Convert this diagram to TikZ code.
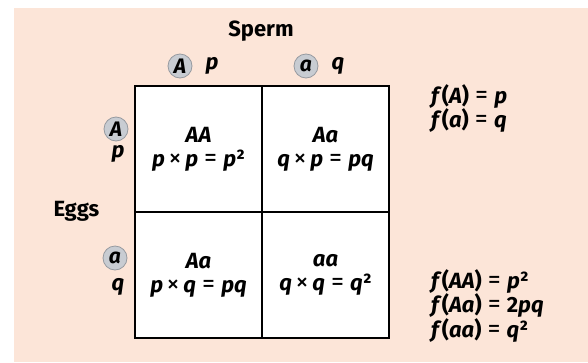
\documentclass[tikz,border=0pt]{standalone}
\usepackage{fontspec}
\setmainfont{Fira Sans}
\usepackage{tikz}
\definecolor{PunnettBg}{RGB}{252,229,216}
\definecolor{PunnettAllele}{RGB}{200,204,210}
\definecolor{PunnettAlleleRim}{RGB}{150,154,160}
\newcommand{\iv}[1]{\textit{#1}}
\newcommand{\eqs}{\;{\fontsize{26}{22}\selectfont\mdseries=}\;}
\newcommand{\tms}{\,{\fontsize{26}{22}\selectfont\mdseries×}\,}

\begin{document}
\begin{tikzpicture}[x=1pt,y=-1pt,font=\fontsize{22}{22}\selectfont\bfseries,
  allele/.style={circle,fill=PunnettAllele,draw=PunnettAlleleRim,line width=0.8pt,inner sep=0pt,minimum size=24pt,font=\fontsize{21}{22}\selectfont\bfseries\itshape},
  cell/.style={rectangle,draw,fill=white,line width=1.6pt,minimum width=127pt,minimum height=126pt,align=center},
  freq/.style={anchor=north west,align=left,inner sep=0pt}]
\useasboundingbox (0,0) rectangle (588,362);
\fill[PunnettBg] (14,8) rectangle (588,362);
% the four cells of the square
\node[cell](cAA) at (198.5,149) {\iv{AA}\\[2pt]\iv{p}\tms\iv{p}\eqs\iv{p}²};
\node[cell](cAa1) at (325.5,149) {\iv{Aa}\\[2pt]\iv{q}\tms\iv{p}\eqs\iv{pq}};
\node[cell](cAa2) at (198.5,275) {\iv{Aa}\\[2pt]\iv{p}\tms\iv{q}\eqs\iv{pq}};
\node[cell](caa) at (325.5,275) {\iv{aa}\\[2pt]\iv{q}\tms\iv{q}\eqs\iv{q}²};
% sperm along the top
\node(sperm) at (261,31) {Sperm};
\node[allele](sA) at (180,66) {A};
\node(sp) at (212,66) {\iv{p}};
\node[allele](sa) at (306,66) {a};
\node(sq) at (338,66) {\iv{q}};
% eggs down the side
\node[anchor=west](eggs) at (50,211) {Eggs};
\node[allele](eA) at (116,129) {A};
\node(ep) at (118,154) {\iv{p}};
\node[allele](ea) at (115,258) {a};
\node(eq) at (118,287) {\iv{q}};
% frequencies
\node[freq](fallele) at (431,84) {\iv{f}(\iv{A})\eqs\iv{p}\\\iv{f}(\iv{a})\eqs\iv{q}};
\node[freq](fgeno) at (431,269) {\iv{f}(\iv{AA})\eqs\iv{p}²\\\iv{f}(\iv{Aa})\eqs 2\iv{pq}\\\iv{f}(\iv{aa})\eqs\iv{q}²};
\end{tikzpicture}
\end{document}
